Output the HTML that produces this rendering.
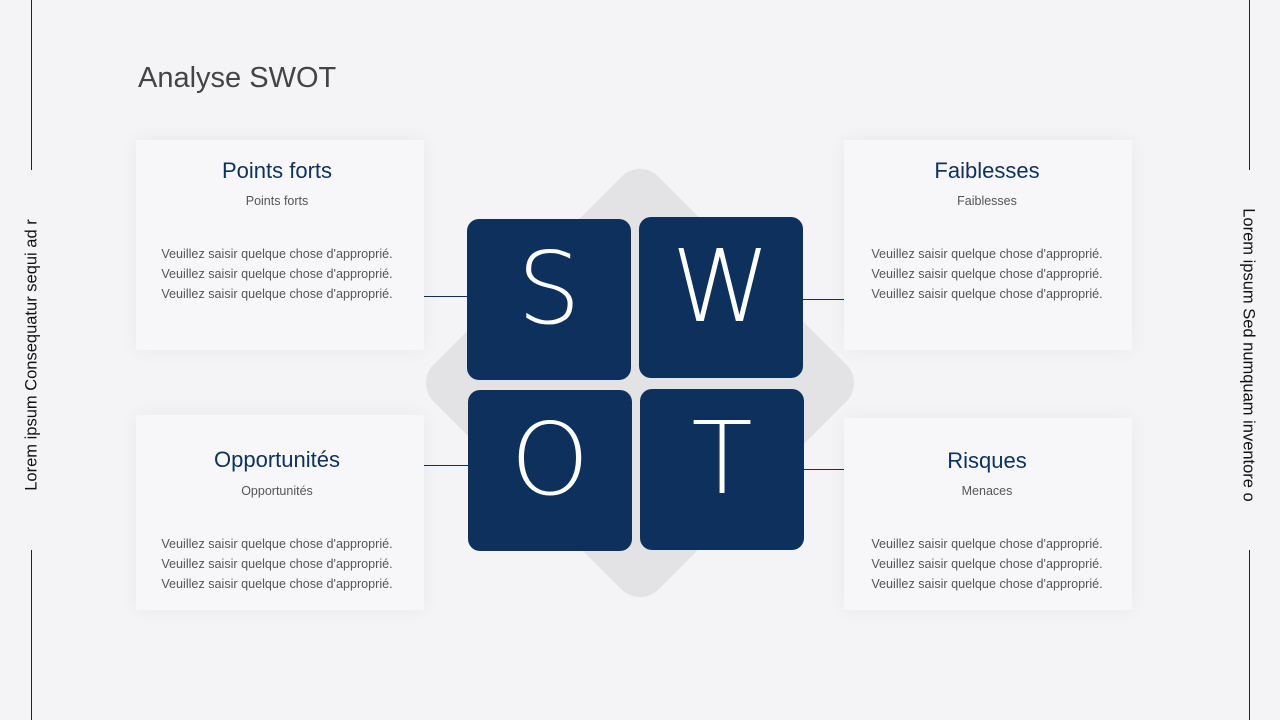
<!DOCTYPE html>
<html><head><meta charset="utf-8"><style>
body{margin:0;width:1280px;height:720px;background:#f4f4f6;position:relative;overflow:hidden;font-family:"Liberation Sans",sans-serif}
.a{position:absolute}
.card{position:absolute;background:#f7f7f9;box-shadow:0 0 18px rgba(0,0,0,0.05)}
.t{position:absolute;width:288px;text-align:center;color:#0d315c;font-size:22px}
.s{position:absolute;width:288px;text-align:center;color:#555;font-size:12.5px}
.b{position:absolute;width:288px;text-align:center;color:#555;font-size:12.6px;line-height:20px}
.sq{position:absolute;width:164px;height:161px;background:#0d315c;border-radius:12px;color:#fff;font-size:100px;font-weight:100;text-align:center;line-height:140px;font-family:"DejaVu Sans","Liberation Sans",sans-serif}
.ln{position:absolute;height:1px;background:#0d315c}
.v{position:absolute;width:1px;background:#222}
</style></head><body>
<div class="v" style="left:31px;top:0;height:170px"></div>
<div class="v" style="left:31px;top:550px;height:170px"></div>
<div class="v" style="left:1249px;top:0;height:170px"></div>
<div class="v" style="left:1249px;top:550px;height:170px"></div>
<div class="a" style="left:32px;top:355px;transform:translate(-50%,-50%) rotate(-90deg);white-space:nowrap;font-size:16.5px;color:#111">Lorem ipsum Consequatur sequi ad r</div>
<div class="a" style="left:1248px;top:355px;transform:translate(-50%,-50%) rotate(90deg);white-space:nowrap;font-size:16.5px;color:#111">Lorem ipsum Sed numquam inventore o</div>
<div class="a" style="left:138px;top:62px;font-size:29px;color:#444">Analyse SWOT</div>
<div class="a" style="left:481px;top:224px;width:318px;height:318px;background:#e3e3e6;border-radius:26px;transform:rotate(45deg)"></div>
<div class="card" style="left:136px;top:140px;width:288px;height:210px"></div>
<div class="card" style="left:136px;top:415px;width:288px;height:195px"></div>
<div class="card" style="left:844px;top:140px;width:288px;height:210px"></div>
<div class="card" style="left:844px;top:418px;width:288px;height:192px"></div>
<div class="t" style="left:133px;top:158px">Points forts</div>
<div class="s" style="left:133px;top:194px">Points forts</div>
<div class="b" style="left:133px;top:244px">Veuillez saisir quelque chose d'approprié.<br>Veuillez saisir quelque chose d'approprié.<br>Veuillez saisir quelque chose d'approprié.</div>
<div class="t" style="left:133px;top:447px">Opportunités</div>
<div class="s" style="left:133px;top:484px">Opportunités</div>
<div class="b" style="left:133px;top:534px">Veuillez saisir quelque chose d'approprié.<br>Veuillez saisir quelque chose d'approprié.<br>Veuillez saisir quelque chose d'approprié.</div>
<div class="t" style="left:843px;top:158px">Faiblesses</div>
<div class="s" style="left:843px;top:194px">Faiblesses</div>
<div class="b" style="left:843px;top:244px">Veuillez saisir quelque chose d'approprié.<br>Veuillez saisir quelque chose d'approprié.<br>Veuillez saisir quelque chose d'approprié.</div>
<div class="t" style="left:843px;top:448px">Risques</div>
<div class="s" style="left:843px;top:484px">Menaces</div>
<div class="b" style="left:843px;top:534px">Veuillez saisir quelque chose d'approprié.<br>Veuillez saisir quelque chose d'approprié.<br>Veuillez saisir quelque chose d'approprié.</div>
<div class="ln" style="left:424px;top:296px;width:44px"></div>
<div class="ln" style="left:424px;top:465px;width:44px"></div>
<div class="ln" style="left:802px;top:299px;width:42px"></div>
<div class="ln" style="left:802px;top:469px;width:42px"></div>
<div class="sq" style="left:467px;top:219px">S</div>
<div class="sq" style="left:639px;top:217px">W</div>
<div class="sq" style="left:468px;top:390px">O</div>
<div class="sq" style="left:640px;top:389px">T</div>
</body></html>
